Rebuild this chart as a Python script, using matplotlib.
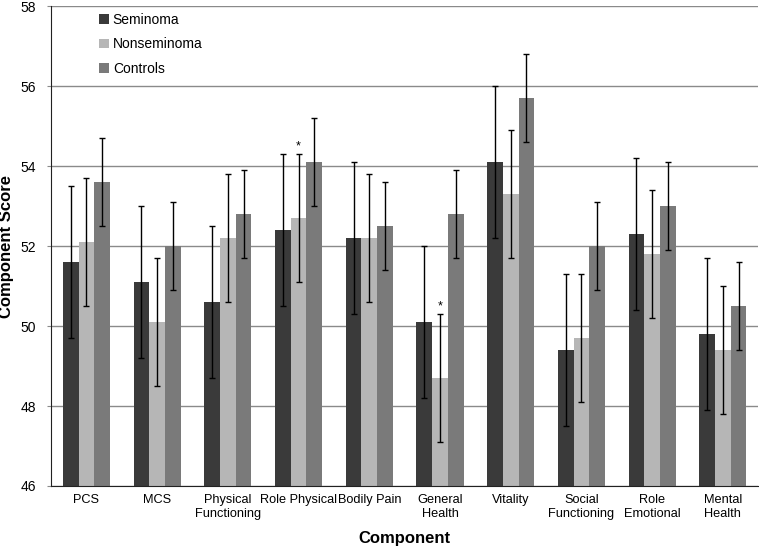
import numpy as np
import matplotlib
matplotlib.use("Agg")
from matplotlib import pyplot as plt

plt.rcParams['font.family'] = ['Liberation Sans', 'DejaVu Sans']

components = ['PCS', 'MCS', 'Physical\nFunctioning', 'Role Physical', 'Bodily Pain',
              'General\nHealth', 'Vitality', 'Social\nFunctioning', 'Role\nEmotional',
              'Mental\nHealth']

seminoma = [51.6, 51.1, 50.6, 52.4, 52.2, 50.1, 54.1, 49.4, 52.3, 49.8]
seminoma_err = [1.9, 1.9, 1.9, 1.9, 1.9, 1.9, 1.9, 1.9, 1.9, 1.9]
nonseminoma = [52.1, 50.1, 52.2, 52.7, 52.2, 48.7, 53.3, 49.7, 51.8, 49.4]
nonseminoma_err = [1.6, 1.6, 1.6, 1.6, 1.6, 1.6, 1.6, 1.6, 1.6, 1.6]
controls = [53.6, 52.0, 52.8, 54.1, 52.5, 52.8, 55.7, 52.0, 53.0, 50.5]
controls_err = [1.1, 1.1, 1.1, 1.1, 1.1, 1.1, 1.1, 1.1, 1.1, 1.1]

# significance marks (nonseminoma bars)
starred = ['Role Physical', 'General\nHealth']

series = [
    ('Seminoma', seminoma, seminoma_err, '#3a3a3a'),
    ('Nonseminoma', nonseminoma, nonseminoma_err, '#b6b6b6'),
    ('Controls', controls, controls_err, '#7a7a7a'),
]

fig = plt.figure(figsize=(7.59, 5.49), dpi=100)
ax = fig.add_axes([0.0672, 0.1148, 0.9318, 0.874])

x = np.arange(len(components))
w = 0.222
for i, (name, vals, errs, color) in enumerate(series):
    pos = x + (i - 1) * w
    ax.bar(pos, vals, w, bottom=0, color=color, label=name, zorder=2)
    ax.errorbar(pos, vals, yerr=errs, fmt='none', ecolor='black', elinewidth=1,
                capsize=2.5, capthick=1, zorder=3)

for c in starred:
    k = components.index(c)
    ax.text(x[k], nonseminoma[k] + nonseminoma_err[k] + 0.05, '*', ha='center',
            va='bottom', fontsize=9)

ax.set_xlim(-0.5, len(components) - 0.5)
ax.set_ylim(46, 58)
ax.set_yticks(np.arange(46, 59, 2))
ax.yaxis.grid(True, color='#8a8a8a', linewidth=1)
ax.set_axisbelow(True)
ax.set_xticks(x)
ax.set_xticklabels(components, fontsize=9.2)
ax.tick_params(axis='x', length=0, pad=6)
ax.tick_params(axis='y', labelsize=10, length=3, color='#8a8a8a', pad=8)
for s in ['top', 'right']:
    ax.spines[s].set_visible(False)
for s in ['left', 'bottom']:
    ax.spines[s].set_color('#222222')

ax.set_xlabel('Component', fontsize=12, fontweight='bold', labelpad=8)
ax.set_ylabel('Component Score', fontsize=12, fontweight='bold')
ax.yaxis.set_label_coords(-0.053, 0.5)

ax.legend(loc='upper left', bbox_to_anchor=(0.05, 1.012), frameon=False, fontsize=10,
          handlelength=0.7, handleheight=0.7, handletextpad=0.3, labelspacing=0.75)

fig.savefig('out.png', dpi=100)
